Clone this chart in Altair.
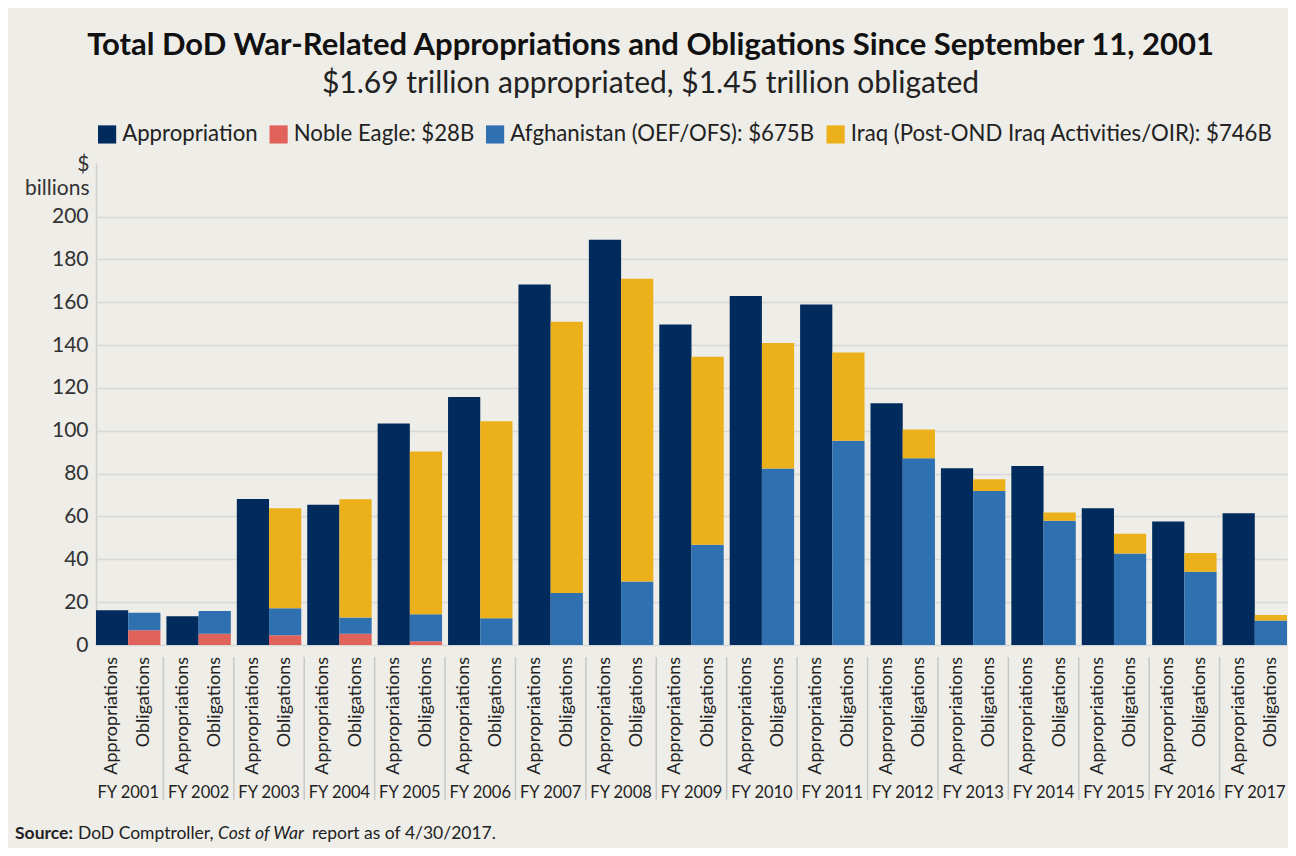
import altair as alt
import pandas as pd

years = ["FY 2001", "FY 2002", "FY 2003", "FY 2004", "FY 2005", "FY 2006",
         "FY 2007", "FY 2008", "FY 2009", "FY 2010", "FY 2011", "FY 2012",
         "FY 2013", "FY 2014", "FY 2015", "FY 2016", "FY 2017"]
appropriation = [16.2, 13.4, 68.2, 65.5, 103.4, 115.8, 168.3, 189.2, 149.6,
                 162.9, 159.0, 112.9, 82.5, 83.6, 63.8, 57.6, 61.5]
noble_eagle = [6.9, 5.3, 4.5, 5.3, 1.7, 0, 0, 0, 0, 0, 0, 0, 0, 0, 0, 0, 0]
afghanistan = [8.1, 10.6, 12.7, 7.5, 12.7, 12.5, 24.3, 29.6, 46.8, 82.4,
               95.3, 87.2, 71.9, 58.0, 42.7, 34.2, 11.4]
iraq = [0, 0, 46.6, 55.2, 75.9, 91.9, 126.6, 141.4, 87.7, 58.6, 41.2, 13.4,
        5.5, 3.8, 9.2, 8.7, 2.6]

series_names = ["Appropriation", "Noble Eagle: $28B",
                "Afghanistan (OEF/OFS): $675B",
                "Iraq (Post-OND Iraq Activities/OIR): $746B"]
series_colors = ["#002b5c", "#e0625a", "#2f70b1", "#ecb11a"]
bar_types = ["Appropriations", "Obligations"]

title_text = "Total DoD War-Related Appropriations and Obligations Since September 11, 2001"
subtitle_text = "$1.69 trillion appropriated, $1.45 trillion obligated"

rows = []
for i, fy in enumerate(years):
    rows.append({"fy": fy, "type": "Appropriations", "series": series_names[0],
                 "value": appropriation[i], "order": 0})
    for k, vals in enumerate([noble_eagle, afghanistan, iraq]):
        rows.append({"fy": fy, "type": "Obligations", "series": series_names[k + 1],
                     "value": vals[i], "order": k + 1})
df = pd.DataFrame(rows)

labels_df = pd.DataFrame([{"fy": fy, "type": t} for fy in years for t in bar_types])
years_df = pd.DataFrame({"fy": years})
sep_df = pd.DataFrame({"fy": years[1:]})

FONT = "Lato"
W, H = 1191, 482

x_enc = alt.X("fy:N", sort=years, axis=None,
              scale=alt.Scale(paddingInner=0.085, paddingOuter=0))
xo_enc = alt.XOffset("type:N", sort=bar_types,
                     scale=alt.Scale(paddingInner=0, paddingOuter=0))

bars = alt.Chart(df).mark_bar().encode(
    x=x_enc,
    xOffset=xo_enc,
    y=alt.Y("value:Q", stack="zero",
            scale=alt.Scale(domain=[0, 225], nice=False),
            axis=alt.Axis(values=list(range(0, 201, 20)),
                          title=["$\u00a0", "billions"], titleAngle=0,
                          titleAlign="right", titleX=-7, titleY=-10,
                          titleBaseline="top", titleFontSize=21,
                          titleFontWeight="normal", titleColor="#333333",
                          titleLineHeight=24,
                          labelFontSize=21, labelColor="#333333",
                          labelPadding=8, ticks=False,
                          domainColor="#cfcfcf", domainWidth=1.5,
                          gridColor="#d8d8d8", gridWidth=1.5)),
    color=alt.Color("series:N", sort=series_names,
                    scale=alt.Scale(domain=series_names, range=series_colors),
                    legend=alt.Legend(title=None, orient="none", legendX=0,
                                      legendY=-40, direction="horizontal",
                                      symbolType="square", symbolSize=330,
                                      symbolStrokeWidth=0, labelFontSize=22.2,
                                      labelColor="#222222", labelFont=FONT,
                                      labelOffset=4, columnPadding=9.5,
                                      labelLimit=700)),
    order=alt.Order("order:Q"),
)

type_labels = alt.Chart(labels_df).mark_text(
    angle=270, align="right", baseline="middle", fontSize=18, font=FONT,
    color="#222222"
).encode(
    x=x_enc, xOffset=xo_enc, y=alt.value(H + 12), text="type:N"
)

fy_labels = alt.Chart(years_df).mark_text(
    baseline="middle", fontSize=16.5, font=FONT, color="#222222"
).encode(
    x=x_enc, y=alt.value(630), text="fy:N"
)

separators = alt.Chart(sep_df).mark_rule(
    color="#c8c8c8", strokeWidth=1.5, xOffset=-3
).encode(
    x=alt.X("fy:N", sort=years, axis=None, bandPosition=0,
            scale=alt.Scale(paddingInner=0.085, paddingOuter=0)),
    y=alt.value(H + 12), y2=alt.value(637)
)

SRC_Y = 671
SRC_SIZE = 17.5
src_base = alt.Chart(pd.DataFrame({"t": [0]}))
src1 = src_base.mark_text(align="left", baseline="middle", fontSize=SRC_SIZE,
                          font=FONT, fontWeight="bold", color="#222222",
                          text="Source:").encode(x=alt.value(-81), y=alt.value(SRC_Y))
src2 = src_base.mark_text(align="left", baseline="middle", fontSize=SRC_SIZE,
                          font=FONT, color="#222222",
                          text="DoD Comptroller,").encode(x=alt.value(-18), y=alt.value(SRC_Y))
src3 = src_base.mark_text(align="left", baseline="middle", fontSize=SRC_SIZE,
                          font=FONT, fontStyle="italic", color="#222222",
                          text="Cost of War").encode(x=alt.value(122), y=alt.value(SRC_Y))
src4 = src_base.mark_text(align="left", baseline="middle", fontSize=SRC_SIZE,
                          font=FONT, color="#222222",
                          text="report as of 4/30/2017.").encode(x=alt.value(216), y=alt.value(SRC_Y))

chart = alt.layer(
    bars, separators, type_labels, fy_labels, src1, src2, src3, src4
).properties(
    width=W, height=H,
    title=alt.TitleParams(text=title_text, subtitle=subtitle_text,
                          anchor="middle", frame="group", dx=-41, offset=23,
                          font=FONT, fontSize=31, fontWeight="bold",
                          color="#111111", subtitleFont=FONT,
                          subtitleFontSize=30, subtitleColor="#222222",
                          subtitlePadding=7),
    autosize=alt.AutoSizeParams(type="none"),
    padding={"left": 88, "top": 155, "right": 1, "bottom": 203},
    background="#eeede8",
).configure_view(stroke=None).configure_axis(labelFont=FONT, titleFont=FONT)

chart.save("out.html", embed_options={"renderer": "svg", "actions": False})
